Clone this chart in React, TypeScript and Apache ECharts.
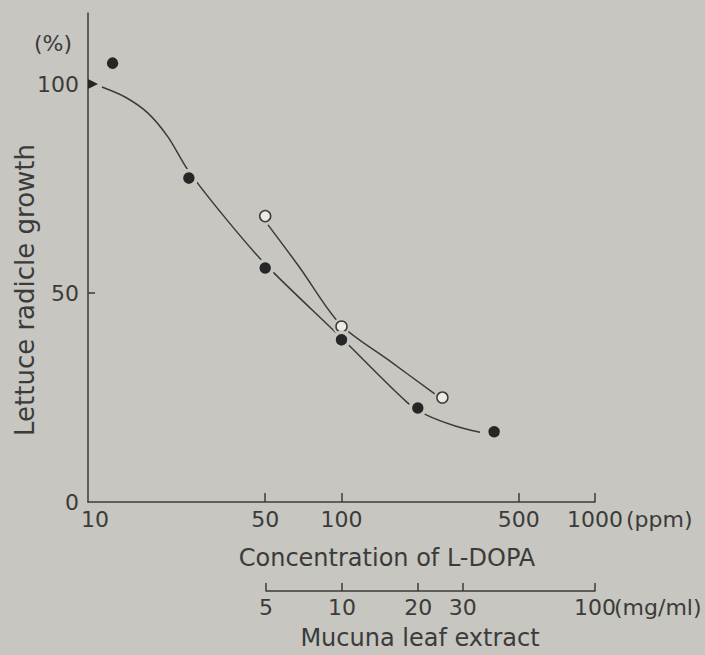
import React, { useEffect, useRef } from "react";
import * as echarts from "echarts";

// ---- data ----
const ppmTicks = [10, 50, 100, 500, 1000];
const ppmTickMarks = [50, 100, 500, 1000];
const mgTicks = [5, 10, 20, 30, 100];
const yLabels = [0, 50, 100];
const yTickMarks = [50];

// control (100 %) shown as a triangle on the axis
const controlPoint = [[10, 100]];
// L-DOPA (ppm, %)
const ldopaPoints = [
  [12.5, 105],
  [25, 77.5],
  [50, 56],
  [100, 38.8],
  [200, 22.5],
  [400, 16.8],
];
// fitted curve for L-DOPA (ppm, %)
const ldopaCurve = [
  [11.35, 99.3],
  [14, 96.9],
  [17.2, 93.1],
  [20.7, 87.3],
  [24.8, 79.4],
  [35.3, 67.5],
  [50.8, 56.5],
  [101, 39],
  [181, 23.9],
  [217, 20.8],
  [281, 18.2],
  [352, 16.7],
];
// Mucuna leaf extract (mg/ml, %)
const mucunaPoints = [
  [5, 68.4],
  [10, 42],
  [25, 25],
];
// fitted curve for Mucuna leaf extract (mg/ml, %)
const mucunaCurve = [
  [5.13, 66.3],
  [6.86, 56],
  [9.86, 42.6],
  [15.3, 34],
  [23.4, 25.8],
];

const BG = "#c7c6c0";
const INK = "#3b3b3b";
const FONT = "DejaVu Sans";

export default function App() {
  const ref = useRef<HTMLDivElement>(null);

  useEffect(() => {
    if (!ref.current) return;
    const chart = echarts.init(ref.current, null, { renderer: "svg" });
    const labelStyle = {
      color: INK,
      fontFamily: FONT,
      fontSize: 22,
    };
    const option: any = {
      animation: false,
      backgroundColor: BG,
      grid: [
        { left: 88, right: 110, top: 13, bottom: 153 },
        { left: 266, right: 110, top: 590, height: 1 },
      ],
      xAxis: [
        {
          gridIndex: 0,
          type: "log",
          logBase: 10,
          min: 10,
          max: 1000,
          position: "bottom",
          axisLine: { show: true, lineStyle: { color: INK, width: 1.5 } },
          axisTick: {
            show: true,
            inside: true,
            length: 9,
            customValues: ppmTickMarks,
            lineStyle: { color: INK, width: 1.5 },
          },
          axisLabel: {
            ...labelStyle,
            margin: 6,
            customValues: ppmTicks,
            formatter: (v: number) =>
              Math.round(v) === 10 ? "{s|10}" : String(Math.round(v)),
            rich: {
              s: {
                color: INK,
                fontFamily: FONT,
                fontSize: 22,
                padding: [0, 0, 0, 14],
              },
            },
          },
          splitLine: { show: false },
          minorTick: { show: false },
        },
        {
          gridIndex: 0,
          type: "log",
          logBase: 10,
          min: 1,
          max: 100,
          show: false,
        },
        {
          gridIndex: 1,
          type: "log",
          logBase: 10,
          min: 5,
          max: 100,
          position: "bottom",
          axisLine: { show: true, lineStyle: { color: INK, width: 1.5 } },
          axisTick: {
            show: true,
            inside: true,
            length: 8,
            customValues: mgTicks,
            lineStyle: { color: INK, width: 1.5 },
          },
          axisLabel: {
            ...labelStyle,
            margin: 5,
            customValues: mgTicks,
            formatter: (v: number) => String(Math.round(v)),
          },
          splitLine: { show: false },
          minorTick: { show: false },
        },
      ],
      yAxis: [
        {
          gridIndex: 0,
          type: "value",
          min: 0,
          max: 117,
          interval: 50,
          axisLine: { show: true, lineStyle: { color: INK, width: 1.5 } },
          axisTick: {
            show: true,
            inside: true,
            length: 7,
            customValues: yTickMarks,
            lineStyle: { color: INK, width: 1.5 },
          },
          axisLabel: { ...labelStyle, margin: 9, customValues: yLabels },
          splitLine: { show: false },
        },
        { gridIndex: 1, type: "value", show: false },
      ],
      series: [
        {
          type: "line",
          xAxisIndex: 0,
          yAxisIndex: 0,
          data: ldopaCurve,
          smooth: 0.3,
          symbol: "none",
          lineStyle: { color: INK, width: 1.5 },
          z: 2,
        },
        {
          type: "line",
          xAxisIndex: 1,
          yAxisIndex: 0,
          data: mucunaCurve,
          smooth: 0.3,
          symbol: "none",
          lineStyle: { color: INK, width: 1.5 },
          z: 2,
        },
        {
          type: "scatter",
          xAxisIndex: 1,
          yAxisIndex: 0,
          data: mucunaPoints,
          symbol: "circle",
          symbolSize: 17,
          itemStyle: { color: BG, opacity: 1 },
          clip: false,
          z: 3,
        },
        {
          type: "scatter",
          xAxisIndex: 1,
          yAxisIndex: 0,
          data: mucunaPoints,
          symbol: "circle",
          symbolSize: 11,
          itemStyle: {
            color: "#ecebe6",
            borderColor: INK,
            borderWidth: 1.5,
            opacity: 1,
          },
          clip: false,
          z: 4,
        },
        {
          type: "scatter",
          xAxisIndex: 0,
          yAxisIndex: 0,
          data: ldopaPoints,
          symbol: "circle",
          symbolSize: 15,
          itemStyle: {
            color: "#262626",
            borderColor: BG,
            borderWidth: 3.5,
            opacity: 1,
          },
          clip: false,
          z: 4,
        },
        {
          type: "scatter",
          xAxisIndex: 0,
          yAxisIndex: 0,
          data: controlPoint,
          symbol: "path://M0,0 L10,5 L0,10 Z",
          symbolSize: [10, 10],
          symbolOffset: ["50%", 0],
          itemStyle: { color: "#262626", opacity: 1 },
          clip: false,
          z: 4,
        },
      ],
      graphic: [
        {
          type: "text",
          x: 53,
          y: 43,
          style: {
            text: "(%)",
            fill: INK,
            font: `22px "${FONT}"`,
            align: "center",
            verticalAlign: "middle",
          },
        },
        {
          type: "text",
          x: 626,
          y: 519,
          style: {
            text: "(ppm)",
            fill: INK,
            font: `22px "${FONT}"`,
            align: "left",
            verticalAlign: "middle",
          },
        },
        {
          type: "text",
          x: 614,
          y: 607,
          style: {
            text: "(mg/ml)",
            fill: INK,
            font: `22px "${FONT}"`,
            align: "left",
            verticalAlign: "middle",
          },
        },
        {
          type: "text",
          x: 387,
          y: 558,
          style: {
            text: "Concentration of L-DOPA",
            fill: INK,
            font: `24px "${FONT}"`,
            align: "center",
            verticalAlign: "middle",
          },
        },
        {
          type: "text",
          x: 420,
          y: 638,
          style: {
            text: "Mucuna leaf extract",
            fill: INK,
            font: `24px "${FONT}"`,
            align: "center",
            verticalAlign: "middle",
          },
        },
        {
          type: "text",
          x: 25,
          y: 290,
          rotation: Math.PI / 2,
          style: {
            text: "Lettuce radicle growth",
            fill: INK,
            font: `26px "${FONT}"`,
            align: "center",
            verticalAlign: "middle",
          },
        },
      ],
    };
    chart.setOption(option);
    return () => chart.dispose();
  }, []);

  return (
    <div
      ref={ref}
      style={{
        position: "fixed",
        left: 0,
        top: 0,
        width: 705,
        height: 655,
        background: BG,
      }}
    />
  );
}
